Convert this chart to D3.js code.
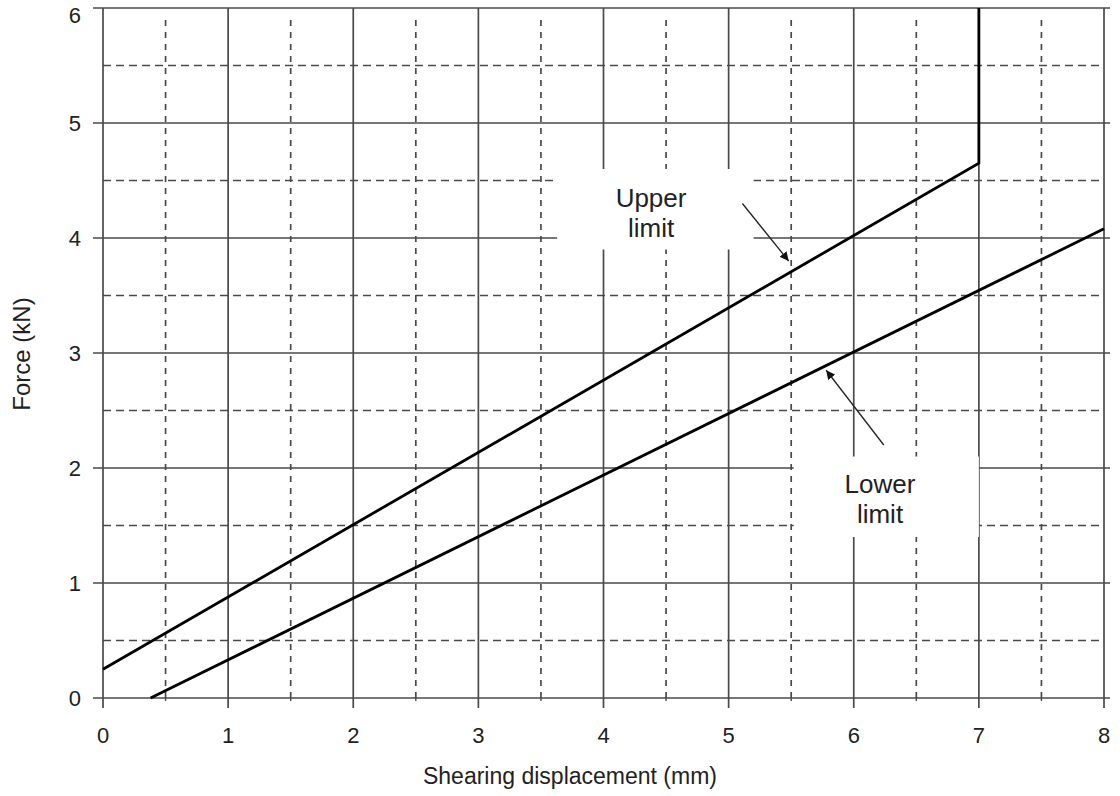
<!DOCTYPE html>
<html><head><meta charset="utf-8">
<script src="https://cdn.jsdelivr.net/npm/d3@7"></script>
<style>body{margin:0;background:#fff}svg{display:block}text{font-family:"Liberation Sans",Arial,sans-serif;fill:#222}</style>
</head><body>
<svg id="c" width="1120" height="796"></svg>
<script>
const xTicks = [0,1,2,3,4,5,6,7,8];
const yTicks = [0,1,2,3,4,5,6];
const xHalf = [0.5,1.5,2.5,3.5,4.5,5.5,6.5,7.5];
const yHalf = [0.5,1.5,2.5,3.5,4.5,5.5];
const upperX = [0, 7, 7];
const upperY = [0.25, 4.65, 6];
const lowerX = [0.38, 8];
const lowerY = [0, 4.08];
const xTitle = "Shearing displacement (mm)";
const yTitle = "Force (kN)";
const labels = [
  {lines:["Upper","limit"], x:4.38, y:4.27, box:[3.63,5.2,4.6,3.9], from:[5.11,4.3], to:[5.48,3.8]},
  {lines:["Lower","limit"], x:6.21, y:1.78, box:[5.52,7.0,2.1,1.4], from:[6.24,2.2], to:[5.78,2.85]}
];

const svg = d3.select("#c");
const x = d3.scaleLinear().domain([0,8]).range([103,1104]);
const y = d3.scaleLinear().domain([0,6]).range([698,8]);
const gridCol = "#4a4a4a";

const g = svg.append("g");
// dashed half grid
g.selectAll(".hd").data(yHalf).join("line")
  .attr("x1", x(0)).attr("x2", x(8)).attr("y1", d=>y(d)).attr("y2", d=>y(d))
  .attr("stroke", gridCol).attr("stroke-width", 1.7).attr("stroke-dasharray", "8,5");
g.selectAll(".vd").data(xHalf).join("line")
  .attr("x1", d=>x(d)).attr("x2", d=>x(d)).attr("y1", y(6)+12).attr("y2", y(0))
  .attr("stroke", gridCol).attr("stroke-width", 1.7).attr("stroke-dasharray", "6,6");
g.selectAll(".vdt").data(xHalf).join("line")
  .attr("x1", d=>x(d)).attr("x2", d=>x(d)).attr("y1", y(0)).attr("y2", y(0)+3)
  .attr("stroke", gridCol).attr("stroke-width", 1.4);
// solid integer grid
g.selectAll(".hs").data(yTicks).join("line")
  .attr("x1", x(0)-10).attr("x2", x(8)+6).attr("y1", d=>y(d)).attr("y2", d=>y(d))
  .attr("stroke", gridCol).attr("stroke-width", 1.7);
g.selectAll(".vs").data(xTicks).join("line")
  .attr("x1", d=>x(d)).attr("x2", d=>x(d)).attr("y1", y(6)).attr("y2", y(0)+10)
  .attr("stroke", gridCol).attr("stroke-width", 1.7);

// white label boxes
labels.forEach(l => {
  svg.append("rect").attr("x", x(l.box[0])).attr("y", y(l.box[2]))
    .attr("width", x(l.box[1])-x(l.box[0])).attr("height", y(l.box[3])-y(l.box[2]))
    .attr("fill", "#fff");
});

// tick labels
svg.selectAll(".xt").data(xTicks).join("text")
  .attr("x", d=>x(d)).attr("y", 743).attr("text-anchor","middle")
  .attr("font-size", 22).text(d=>d);
svg.selectAll(".yt").data(yTicks).join("text")
  .attr("x", 81).attr("y", d=>Math.max(y(d)+8, 23)).attr("text-anchor","end")
  .attr("font-size", 22).text(d=>d);
svg.append("text").attr("x", 570).attr("y", 784).attr("text-anchor","middle")
  .attr("font-size", 23).text(xTitle);
svg.append("text").attr("transform","translate(30,354) rotate(-90)").attr("text-anchor","middle")
  .attr("font-size", 24).text(yTitle);

// data lines
const line = d3.line().x(d=>x(d[0])).y(d=>y(d[1]));
svg.append("path").datum(upperX.map((v,i)=>[v,upperY[i]]))
  .attr("d", line).attr("fill","none").attr("stroke","#000").attr("stroke-width",2.8);
svg.append("path").datum(lowerX.map((v,i)=>[v,lowerY[i]]))
  .attr("d", line).attr("fill","none").attr("stroke","#000").attr("stroke-width",2.8);

// arrows
svg.append("defs").append("marker").attr("id","ah").attr("viewBox","0 0 10 10")
  .attr("refX",10).attr("refY",5).attr("markerWidth",9).attr("markerHeight",9)
  .attr("markerUnits","userSpaceOnUse").attr("orient","auto")
  .append("path").attr("d","M0,0 L10,5 L0,10 z").attr("fill","#111");
labels.forEach(l => {
  svg.append("line").attr("x1", x(l.from[0])).attr("y1", y(l.from[1]))
    .attr("x2", x(l.to[0])).attr("y2", y(l.to[1]))
    .attr("stroke","#222").attr("stroke-width",1.3).attr("marker-end","url(#ah)");
  l.lines.forEach((t,i) => {
    svg.append("text").attr("x", x(l.x)).attr("y", y(l.y) + i*30)
      .attr("text-anchor","middle").attr("font-size",26).text(t);
  });
});
</script>
</body></html>
